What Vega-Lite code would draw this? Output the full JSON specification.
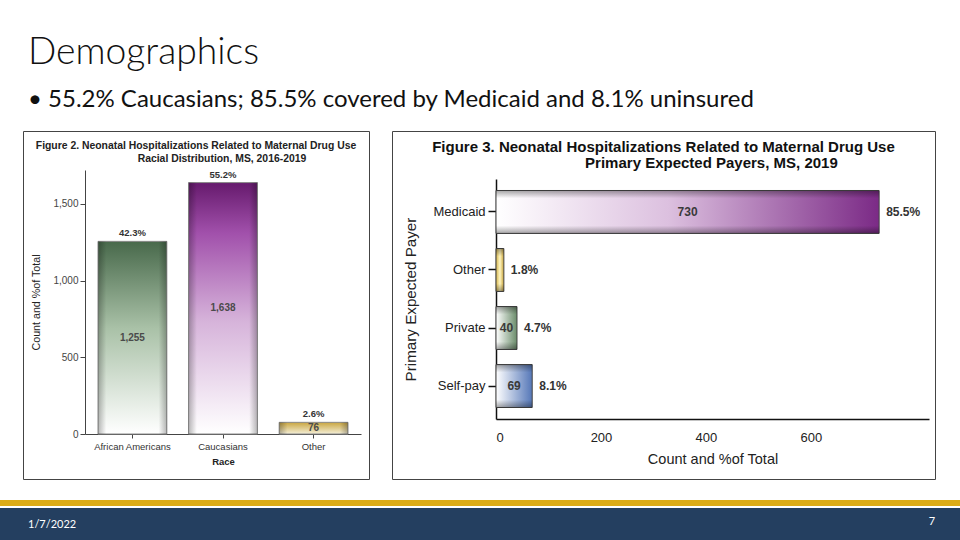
{
  "$schema": "https://vega.github.io/schema/vega-lite/v6.json",
  "background": "white",
  "padding": {"left": 0, "right": 0, "top": 33, "bottom": 0},
  "title": {
    "text": "Demographics",
    "subtitle": "•  55.2% Caucasians; 85.5% covered by Medicaid and 8.1% uninsured",
    "anchor": "start",
    "dx": 28,
    "font": "Lato",
    "fontSize": 37.3,
    "fontWeight": 300,
    "color": "#111111",
    "subtitleFont": "Lato",
    "subtitleFontSize": 24,
    "subtitleColor": "#111111",
    "subtitlePadding": 16,
    "offset": 17
  },
  "spacing": 17,
  "vconcat": [
    {
      "spacing": 21,
      "hconcat": [
        {
          "width": 1,
          "height": 10,
          "data": {"values": [{}]},
          "mark": {"type": "text", "text": ""}
        },
        {
          "width": 346,
          "height": 348,
          "view": {"stroke": "#444444", "strokeWidth": 1, "fill": "white"},
          "title": {
            "text": ["Figure 2. Neonatal Hospitalizations Related to Maternal Drug Use", "\u200b\u00a0\u00a0\u00a0\u00a0\u00a0\u00a0\u00a0\u00a0\u00a0\u00a0\u00a0\u00a0\u00a0\u00a0\u00a0\u00a0\u00a0\u00a0Racial Distribution, MS, 2016-2019"],
            "font": "Liberation Sans",
            "fontSize": 10.4,
            "fontWeight": "bold",
            "color": "#222222",
            "anchor": "middle",
            "lineHeight": 13,
            "offset": -33
          },
          "data": {
            "values": [
              {"race": "African Americans", "count": 1255, "share": 0.423},
              {"race": "Caucasians", "count": 1638, "share": 0.552},
              {"race": "Other", "count": 76, "share": 0.026}
            ]
          },
          "resolve": {"scale": {"y": "independent"}},
          "layer": [
            {
              "encoding": {
                "x": {
                  "field": "race",
                  "type": "nominal",
                  "sort": null,
                  "scale": {"domain": ["African Americans", "Caucasians", "Other"], "range": [62, 338], "paddingInner": 0.24, "paddingOuter": 0.1435},
                  "axis": {
                    "title": "Race",
                    "offset": -45,
                    "labelAngle": 0,
                    "labelFontSize": 9.5,
                    "labelColor": "#333333",
                    "labelPadding": 3,
                    "tickSize": 4,
                    "tickColor": "#444444",
                    "domainColor": "#444444",
                    "titleFontSize": 9.5,
                    "titleFontWeight": "bold",
                    "titleColor": "#222222",
                    "titlePadding": 6
                  }
                },
                "y": {
                  "field": "count",
                  "type": "quantitative",
                  "scale": {"domain": [0, 1720], "range": [303, 39], "nice": false},
                  "axis": {
                    "title": "Count and %of Total",
                    "offset": -62,
                    "values": [0, 500, 1000, 1500],
                    "format": ",d",
                    "labelFontSize": 10,
                    "labelColor": "#444444",
                    "labelPadding": 2,
                    "tickSize": 5,
                    "tickColor": "#444444",
                    "domainColor": "#444444",
                    "titleFontSize": 10.7,
                    "titleFontWeight": "normal",
                    "titleColor": "#222222",
                    "titlePadding": 11
                  }
                }
              },
              "layer": [
                {
                  "transform": [{"filter": "datum.race === 'African Americans'"}],
                  "mark": {
                    "type": "bar",
                    "stroke": "#8a8a8a",
                    "strokeWidth": 1,
                    "fill": {"gradient": "linear", "x1": 0, "y1": 1, "x2": 0, "y2": 0, "stops": [{"offset": 0, "color": "#ffffff"}, {"offset": 0.55, "color": "#a9c1a7"}, {"offset": 1, "color": "#48694b"}]}
                  }
                },
                {
                  "transform": [{"filter": "datum.race === 'Caucasians'"}],
                  "mark": {
                    "type": "bar",
                    "stroke": "#8a8a8a",
                    "strokeWidth": 1,
                    "fill": {"gradient": "linear", "x1": 0, "y1": 1, "x2": 0, "y2": 0, "stops": [{"offset": 0, "color": "#ffffff"}, {"offset": 0.45, "color": "#d6b3da"}, {"offset": 0.8, "color": "#a150ab"}, {"offset": 1, "color": "#661a6d"}]}
                  }
                },
                {
                  "transform": [{"filter": "datum.race === 'Other'"}],
                  "mark": {
                    "type": "bar",
                    "stroke": "#8a8a8a",
                    "strokeWidth": 1,
                    "fill": {"gradient": "linear", "x1": 0, "y1": 1, "x2": 0, "y2": 0, "stops": [{"offset": 0, "color": "#f4efd8"}, {"offset": 1, "color": "#c9a641"}]}
                  }
                },
                {
                  "mark": {
                    "type": "bar",
                    "fill": {"gradient": "linear", "x1": 0, "y1": 0, "x2": 1, "y2": 0, "stops": [{"offset": 0, "color": "rgba(0,0,0,0.28)"}, {"offset": 0.12, "color": "rgba(0,0,0,0)"}, {"offset": 0.88, "color": "rgba(0,0,0,0)"}, {"offset": 1, "color": "rgba(0,0,0,0.28)"}]}
                  }
                },
                {
                  "mark": {"type": "text", "baseline": "bottom", "dy": -3, "fontWeight": "bold", "fontSize": 9.5, "color": "#333333"},
                  "encoding": {"text": {"field": "share", "type": "quantitative", "format": ".1%"}}
                }
              ]
            },
            {
              "mark": {"type": "text", "baseline": "middle", "fontWeight": "bold", "fontSize": 10, "color": "#4a4a4a"},
              "encoding": {
                "x": {"field": "race", "type": "nominal", "sort": null},
                "y": {"field": "count", "type": "quantitative", "scale": {"domain": [0, 3440], "range": [303, 39], "nice": false}, "axis": null},
                "text": {"field": "count", "type": "quantitative", "format": ","}
              }
            }
          ]
        },
        {
          "width": 543,
          "height": 348,
          "view": {"stroke": "#444444", "strokeWidth": 1, "fill": "white"},
          "title": {
            "text": ["Figure 3. Neonatal Hospitalizations Related to Maternal Drug Use", "\u200b\u00a0\u00a0\u00a0\u00a0\u00a0\u00a0\u00a0\u00a0\u00a0\u00a0\u00a0\u00a0\u00a0\u00a0\u00a0\u00a0\u00a0\u00a0\u00a0\u00a0\u00a0\u00a0\u00a0Primary Expected Payers, MS, 2019"],
            "font": "Liberation Sans",
            "fontSize": 15,
            "fontWeight": "bold",
            "color": "#111111",
            "anchor": "middle",
            "lineHeight": 16,
            "offset": -40
          },
          "data": {
            "values": [
              {"payer": "Medicaid", "count": 730, "share": 0.855},
              {"payer": "Other", "count": 15, "share": 0.018},
              {"payer": "Private", "count": 40, "share": 0.047},
              {"payer": "Self-pay", "count": 69, "share": 0.081}
            ]
          },
          "resolve": {"scale": {"x": "independent"}},
          "layer": [
            {
              "encoding": {
                "y": {
                  "field": "payer",
                  "type": "nominal",
                  "sort": null,
                  "scale": {"domain": ["Medicaid", "Other", "Private", "Self-pay"], "range": [48, 288], "paddingInner": 0.26, "paddingOuter": 0.198},
                  "axis": {
                    "title": "Primary Expected Payer",
                    "offset": -104,
                    "labelFontSize": 13,
                    "labelColor": "#222222",
                    "labelPadding": 3,
                    "tickSize": 8,
                    "tickColor": "#111111",
                    "tickWidth": 1.5,
                    "domainColor": "#111111",
                    "domainWidth": 1.5,
                    "titleFontSize": 15.2,
                    "titleFontWeight": "normal",
                    "titleColor": "#222222",
                    "titlePadding": 14
                  }
                },
                "x": {
                  "field": "count",
                  "type": "quantitative",
                  "scale": {"domain": [0, 825], "range": [104, 537], "nice": false},
                  "axis": {
                    "title": "Count and %of Total",
                    "offset": -60,
                    "values": [0, 200, 400, 600],
                    "ticks": false,
                    "labelFontSize": 13,
                    "labelColor": "#222222",
                    "labelPadding": 12,
                    "domainColor": "#111111",
                    "domainWidth": 1.5,
                    "titleFontSize": 14.5,
                    "titleFontWeight": "normal",
                    "titleColor": "#222222",
                    "titlePadding": 8
                  }
                }
              },
              "layer": [
                {
                  "transform": [{"filter": "datum.payer === 'Medicaid'"}],
                  "mark": {
                    "type": "bar",
                    "stroke": "#444444",
                    "strokeWidth": 1,
                    "fill": {"gradient": "linear", "x1": 0, "y1": 0, "x2": 1, "y2": 0, "stops": [{"offset": 0, "color": "#ffffff"}, {"offset": 0.45, "color": "#dcc0df"}, {"offset": 1, "color": "#7b2a86"}]}
                  }
                },
                {
                  "transform": [{"filter": "datum.payer === 'Other'"}],
                  "mark": {
                    "type": "bar",
                    "stroke": "#444444",
                    "strokeWidth": 1,
                    "fill": {"gradient": "linear", "x1": 0, "y1": 0, "x2": 1, "y2": 0, "stops": [{"offset": 0, "color": "#d6b54a"}, {"offset": 0.5, "color": "#fff6c2"}, {"offset": 1, "color": "#c9a33a"}]}
                  }
                },
                {
                  "transform": [{"filter": "datum.payer === 'Private'"}],
                  "mark": {
                    "type": "bar",
                    "stroke": "#444444",
                    "strokeWidth": 1,
                    "fill": {"gradient": "linear", "x1": 0, "y1": 0, "x2": 1, "y2": 0, "stops": [{"offset": 0, "color": "#ffffff"}, {"offset": 1, "color": "#6a8c6a"}]}
                  }
                },
                {
                  "transform": [{"filter": "datum.payer === 'Self-pay'"}],
                  "mark": {
                    "type": "bar",
                    "stroke": "#444444",
                    "strokeWidth": 1,
                    "fill": {"gradient": "linear", "x1": 0, "y1": 0, "x2": 1, "y2": 0, "stops": [{"offset": 0, "color": "#ffffff"}, {"offset": 1, "color": "#5577b8"}]}
                  }
                },
                {
                  "mark": {
                    "type": "bar",
                    "fill": {"gradient": "linear", "x1": 0, "y1": 0, "x2": 0, "y2": 1, "stops": [{"offset": 0, "color": "rgba(0,0,0,0.35)"}, {"offset": 0.18, "color": "rgba(0,0,0,0)"}, {"offset": 0.82, "color": "rgba(0,0,0,0)"}, {"offset": 1, "color": "rgba(0,0,0,0.35)"}]}
                  }
                },
                {
                  "mark": {"type": "text", "align": "left", "baseline": "middle", "dx": 7, "fontWeight": "bold", "fontSize": 12, "color": "#333333"},
                  "encoding": {"text": {"field": "share", "type": "quantitative", "format": ".1%"}}
                }
              ]
            },
            {
              "transform": [{"filter": "datum.count >= 30"}],
              "mark": {"type": "text", "align": "center", "baseline": "middle", "fontWeight": "bold", "fontSize": 12, "color": "#3a3a3a"},
              "encoding": {
                "y": {"field": "payer", "type": "nominal", "sort": null},
                "x": {"field": "count", "type": "quantitative", "scale": {"domain": [0, 1650], "range": [104, 537], "nice": false}, "axis": null},
                "text": {"field": "count", "type": "quantitative", "format": ","}
              }
            }
          ]
        }
      ]
    },
    {
      "spacing": 0,
      "vconcat": [
        {
          "width": 960,
          "height": 6,
          "view": {"fill": "#DDAC17", "stroke": null},
          "data": {"values": [{}]},
          "mark": {"type": "text", "text": ""}
        },
        {
          "width": 960,
          "height": 34,
          "view": {"fill": "#243F60", "stroke": null},
          "data": {
            "values": [
              {"slot": "date", "label": "1/7/2022"},
              {"slot": "page", "label": "7"}
            ]
          },
          "encoding": {
            "x": {"field": "slot", "type": "nominal", "scale": {"type": "point", "domain": ["date", "page"], "padding": 0.031}, "axis": null},
            "text": {"field": "label", "type": "nominal"}
          },
          "layer": [
            {
              "transform": [{"filter": "datum.slot === 'date'"}],
              "mark": {"type": "text", "align": "left", "baseline": "middle", "font": "Lato", "fontSize": 11, "color": "white"}
            },
            {
              "transform": [{"filter": "datum.slot === 'page'"}],
              "mark": {"type": "text", "align": "center", "baseline": "middle", "dy": -3, "font": "Lato", "fontSize": 11, "color": "white"}
            }
          ]
        }
      ]
    }
  ],
  "config": {
    "font": "Liberation Sans",
    "view": {"stroke": null},
    "axis": {"grid": false, "labelFont": "Liberation Sans", "titleFont": "Liberation Sans"}
  }
}
